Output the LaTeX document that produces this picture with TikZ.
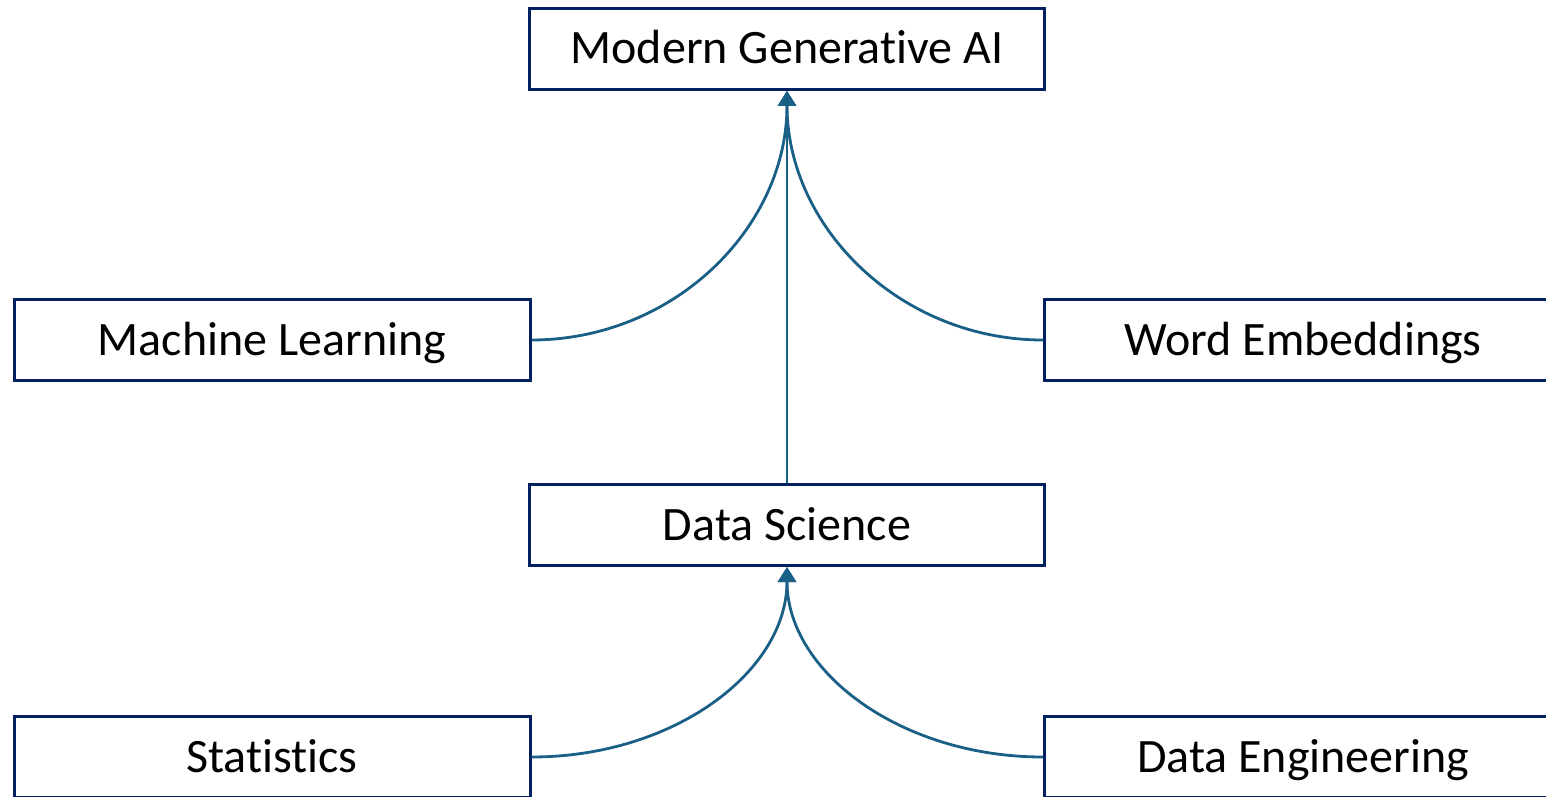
\documentclass[tikz,border=0pt]{standalone}
\usepackage{fontspec}
\setmainfont{Carlito}[Ligatures=NoCommon]
\usetikzlibrary{arrows.meta}
\definecolor{boxblue}{RGB}{0,32,96}
\definecolor{arrowblue}{RGB}{26,95,134}
\begin{document}
\begin{tikzpicture}[x=0.5pt,y=-0.5pt,
  box/.style={draw=boxblue, line width=1.5pt, fill=white, minimum height=40.5pt, inner sep=0pt, text height=15pt, text depth=0pt, font=\fontsize{24}{28}\selectfont},
  conn/.style={draw=arrowblue, line width=1.4pt, -{Triangle[width=9pt,length=7.5pt]}}]
\useasboundingbox (0,0) rectangle (1546,797);
\clip (0,0) rectangle (1546,797);
\node[box, minimum width=257.5pt] (mga) at (787,49) {Modern Generative AI};
\node[box, minimum width=258pt] (ml) at (272,340) {Machine Learning};
\node[box, minimum width=258.75pt] (we) at (1303.25,340) {Word Embeddings};
\node[box, minimum width=257.5pt] (ds) at (787,525) {Data Science};
\node[box, minimum width=258pt] (stat) at (272,757) {Statistics};
\node[box, minimum width=258.75pt] (de) at (1303.25,757) {Data Engineering};
\draw[conn] (ml.east) .. controls +(142,0) and +(0,137) .. (mga.south);
\draw[conn] (we.west) .. controls +(-142,0) and +(0,137) .. (mga.south);
\draw[conn] (ds.north) -- (mga.south);
\draw[conn] (stat.east) .. controls +(142,0) and +(0,105) .. (ds.south);
\draw[conn] (de.west) .. controls +(-142,0) and +(0,105) .. (ds.south);
\end{tikzpicture}
\end{document}
